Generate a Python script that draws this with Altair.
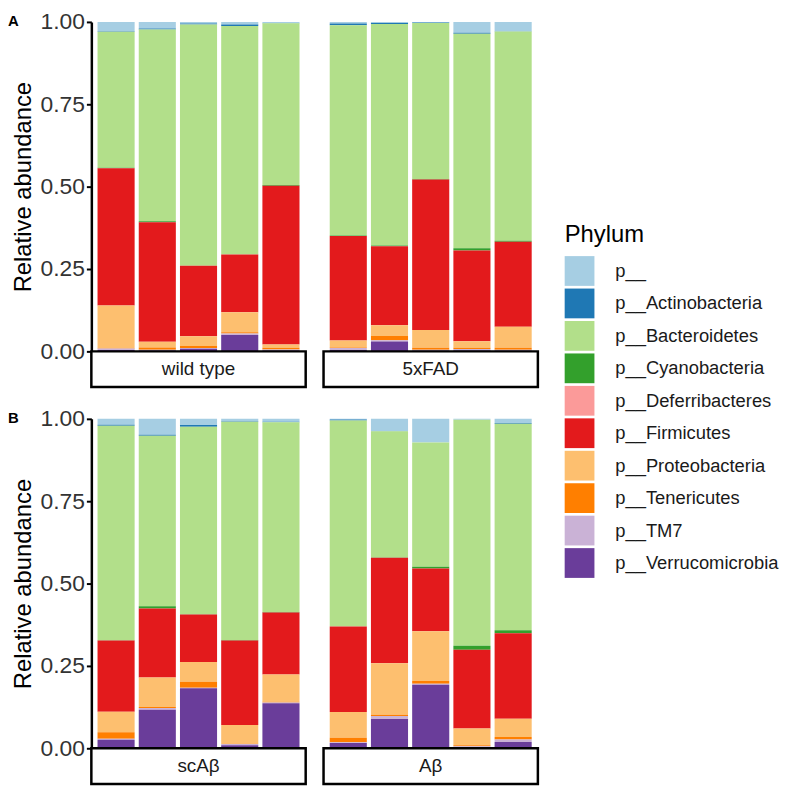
import altair as alt
import pandas as pd

phyla = ["p__", "p__Actinobacteria", "p__Bacteroidetes", "p__Cyanobacteria",
         "p__Deferribacteres", "p__Firmicutes", "p__Proteobacteria",
         "p__Tenericutes", "p__TM7", "p__Verrucomicrobia"]
colors = ["#A6CEE3", "#1F78B4", "#B2DF8A", "#33A02C", "#FB9A99",
          "#E31A1C", "#FDBF6F", "#FF7F00", "#CAB2D6", "#6A3D9A"]
groups = ["wild type", "5xFAD", "scAβ", "Aβ"]
samples = [1, 2, 3, 4, 5]

# values: wild type x5, 5xFAD x5, scAβ x5, Aβ x5
v_unassigned = [0.028, 0.020, 0.005, 0.008, 0.003,  0.005, 0.003, 0.002, 0.033, 0.028,
                0.018, 0.048, 0.019, 0.007, 0.009,  0.002, 0.037, 0.072, 0.003, 0.013]
v_actino = [0.002, 0.003, 0.003, 0.004, 0.001,  0.005, 0.003, 0.001, 0.003, 0.001,
            0.003, 0.003, 0.005, 0.002, 0.001,  0.003, 0.001, 0.000, 0.000, 0.002]
v_bactero = [0.413, 0.582, 0.732, 0.694, 0.491,  0.638, 0.673, 0.474, 0.651, 0.635,
             0.651, 0.518, 0.569, 0.662, 0.576,  0.625, 0.383, 0.377, 0.686, 0.627]
v_cyano = [0.001, 0.003, 0.000, 0.000, 0.002,  0.002, 0.002, 0.001, 0.007, 0.003,
           0.001, 0.007, 0.001, 0.002, 0.002,  0.000, 0.001, 0.005, 0.012, 0.009]
v_deferri = [0.0] * 20
v_firmi = [0.417, 0.363, 0.214, 0.175, 0.482,  0.317, 0.240, 0.457, 0.275, 0.258,
           0.216, 0.209, 0.144, 0.256, 0.188,  0.260, 0.320, 0.191, 0.239, 0.259]
v_proteo = [0.129, 0.017, 0.030, 0.061, 0.010,  0.021, 0.032, 0.054, 0.020, 0.064,
            0.062, 0.090, 0.060, 0.057, 0.083,  0.078, 0.156, 0.151, 0.051, 0.056]
v_teneri = [0.001, 0.007, 0.006, 0.004, 0.005,  0.002, 0.013, 0.006, 0.004, 0.006,
            0.020, 0.003, 0.018, 0.001, 0.002,  0.014, 0.004, 0.008, 0.003, 0.007]
v_tm7 = [0.005, 0.002, 0.002, 0.004, 0.003,  0.006, 0.004, 0.003, 0.004, 0.003,
         0.003, 0.005, 0.002, 0.004, 0.002,  0.002, 0.009, 0.003, 0.002, 0.008]
v_verruco = [0.004, 0.003, 0.008, 0.050, 0.003,  0.004, 0.030, 0.002, 0.003, 0.002,
             0.026, 0.117, 0.182, 0.009, 0.137,  0.016, 0.089, 0.193, 0.004, 0.019]

series = [v_unassigned, v_actino, v_bactero, v_cyano, v_deferri,
          v_firmi, v_proteo, v_teneri, v_tm7, v_verruco]

rows = []
for pi, (ph, vals) in enumerate(zip(phyla, series)):
    for gi, g in enumerate(groups):
        for si, s in enumerate(samples):
            rows.append(dict(group=g, sample=s, phylum=ph,
                             value=vals[gi * 5 + si], ord=len(phyla) - pi))
df = pd.DataFrame(rows)

W, H, SH = 216, 332, 36
FONT = "Liberation Sans"


def panel(g, left, tag=None):
    base = alt.Chart(df[df.group == g])
    yaxis = alt.Axis(values=[0, 0.25, 0.5, 0.75, 1.0], format=".2f",
                     title="Relative abundance") if left else None
    bars = base.mark_bar().encode(
        x=alt.X("sample:O", axis=None,
                scale=alt.Scale(paddingInner=0.1, paddingOuter=0.15)),
        y=alt.Y("value:Q", stack="zero",
                scale=alt.Scale(domain=[0, 1], nice=False), axis=yaxis),
        color=alt.Color("phylum:N", scale=alt.Scale(domain=phyla, range=colors),
                        legend=alt.Legend(title="Phylum")),
        order=alt.Order("ord:Q", sort="ascending"),
    )
    sdf = pd.DataFrame({"label": [g]})
    rect = alt.Chart(sdf).mark_rect(fill="white", stroke="black", strokeWidth=2.5).encode(
        x=alt.value(0), x2=alt.value(W), y=alt.value(H), y2=alt.value(H + SH))
    txt = alt.Chart(sdf).mark_text(fontSize=19, color="#1A1A1A", font=FONT,
                                   baseline="middle").encode(
        text="label:N", x=alt.value(W / 2), y=alt.value(H + SH / 2))
    layers = [bars, rect, txt]
    if tag:
        t = alt.Chart(pd.DataFrame({"t": [tag]})).mark_text(
            fontWeight="bold", fontSize=15, align="left", baseline="top",
            font=FONT, color="black").encode(
            text="t:N", x=alt.value(-84), y=alt.value(-8))
        layers.append(t)
    return alt.layer(*layers).properties(width=W, height=H)


rowA = alt.hconcat(panel("wild type", True, "A"), panel("5xFAD", False), spacing=14)
rowB = alt.hconcat(panel("scAβ", True, "B"), panel("Aβ", False), spacing=14)

chart = alt.vconcat(rowA, rowB, spacing=19).properties(
    padding={"left": 0, "top": 0, "right": 0, "bottom": 0}
).configure_view(stroke=None).configure_axis(
    domainColor="black", domainWidth=2.5, tickColor="black", tickWidth=2,
    tickSize=5, labelFontSize=23, labelColor="#333333", labelFont=FONT,
    titleFont=FONT, titleFontSize=24, titleFontWeight="normal",
    titleColor="black", labelPadding=2, titlePadding=5, grid=False
).configure_legend(
    orient="none", legendX=477, legendY=203,
    symbolType="square", symbolSize=900, symbolStrokeWidth=0,
    labelFontSize=18.5, labelFont=FONT, labelColor="#1A1A1A", labelOffset=21,
    titleFontSize=24, titleFont=FONT, titleFontWeight="normal", titleColor="black",
    titlePadding=9, rowPadding=2.7, labelLimit=300
)

chart.save("out.html", embed_options={"renderer": "svg", "actions": False})
